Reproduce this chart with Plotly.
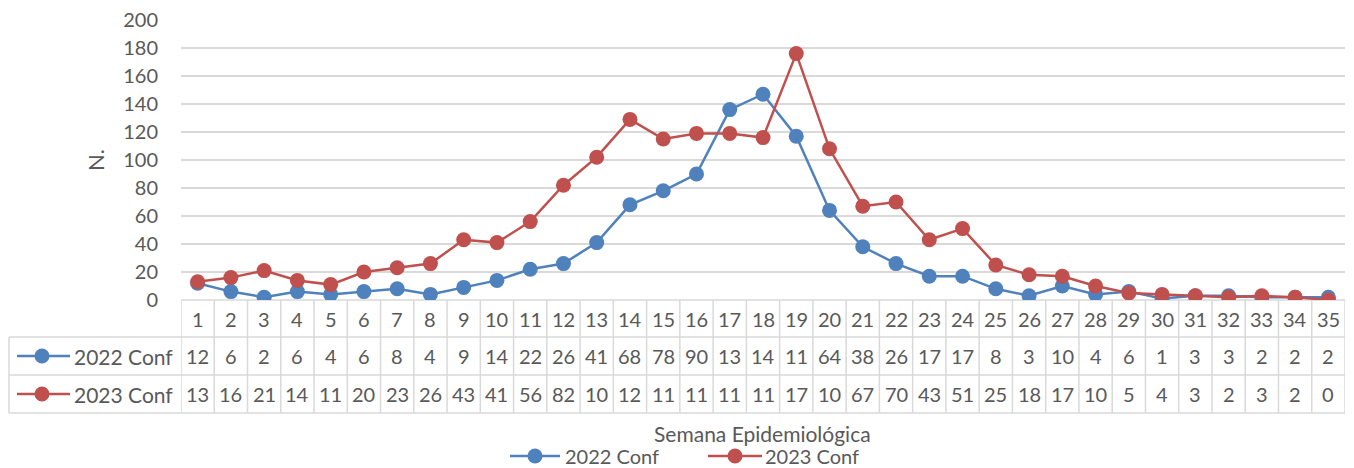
import plotly.graph_objects as go

weeks = list(range(1, 36))
conf_2022 = [12, 6, 2, 6, 4, 6, 8, 4, 9, 14, 22, 26, 41, 68, 78, 90, 136, 147, 117, 64,
             38, 26, 17, 17, 8, 3, 10, 4, 6, 1, 3, 3, 2, 2, 2]
conf_2023 = [13, 16, 21, 14, 11, 20, 23, 26, 43, 41, 56, 82, 102, 129, 115, 119, 119, 116, 176, 108,
             67, 70, 43, 51, 25, 18, 17, 10, 5, 4, 3, 2, 3, 2, 0]
series_names = ["2022 Conf", "2023 Conf"]
colors = ["#4f81bd", "#c0504d"]
y_ticks = list(range(0, 201, 20))

W, H = 1354, 468
L, R, T, B = 181, 9, 20, 168
PW = W - L - R
PH = H - T - B
FONT = "Lato"
TXT = "#595959"
GRID = "#d9d9d9"
FS = 20


def py(ypix):
    return (T + PH - ypix) / PH


def px(xpix):
    return (xpix - L) / PW


fig = go.Figure()
for name, vals, c in zip(series_names, [conf_2022, conf_2023], colors):
    fig.add_trace(go.Scatter(
        x=weeks, y=vals, name=name, mode="lines+markers",
        line=dict(color=c, width=2.5),
        marker=dict(color=c, size=15),
        showlegend=False,
    ))

shapes = []
annotations = []
row_top, r1, r2, row_bot = 300, 337, 375, 413
shapes.append(dict(type="line", xref="paper", yref="paper", x0=0, x1=1, y0=py(row_top), y1=py(row_top),
                   line=dict(color=GRID, width=1.5), layer="below"))
for yy in [r1, r2, row_bot]:
    shapes.append(dict(type="line", xref="paper", yref="paper", x0=px(9), x1=1, y0=py(yy), y1=py(yy),
                       line=dict(color=GRID, width=1.5)))
for k in range(0, 36):
    shapes.append(dict(type="line", xref="x", yref="paper", x0=k + 0.5, x1=k + 0.5,
                       y0=py(row_top), y1=py(row_bot), line=dict(color=GRID, width=1.5)))
shapes.append(dict(type="line", xref="paper", yref="paper", x0=px(9), x1=px(9),
                   y0=py(r1), y1=py(row_bot), line=dict(color=GRID, width=1.5)))


def txt(x, y, text, size=FS, xref="paper", xanchor="center", **kw):
    annotations.append(dict(x=x, y=y, xref=xref, yref="paper", text=text, showarrow=False,
                            xanchor=xanchor, yanchor="middle",
                            font=dict(size=size, color=TXT, family=FONT), **kw))


for w in weeks:
    txt(w, py((row_top + r1) / 2), str(w), xref="x")
for (ya, yb), vals in zip([(r1, r2), (r2, row_bot)], [conf_2022, conf_2023]):
    for w, v in zip(weeks, vals):
        txt(w, py((ya + yb) / 2), str(v)[:2], xref="x")


def legend_key(xl, xr, xm, xt, ypix, name, c, size=21):
    yc = py(ypix)
    shapes.append(dict(type="line", xref="paper", yref="paper", x0=px(xl), x1=px(xr), y0=yc, y1=yc,
                       line=dict(color=c, width=2.5)))
    shapes.append(dict(type="circle", xref="paper", yref="paper", xsizemode="pixel", ysizemode="pixel",
                       xanchor=px(xm), yanchor=yc, x0=-7.5, x1=7.5, y0=-7.5, y1=7.5,
                       fillcolor=c, line=dict(color=c, width=0)))
    txt(px(xt), yc, name, size=size, xanchor="left")


for (ya, yb), name, c in zip([(r1, r2), (r2, row_bot)], series_names, colors):
    legend_key(17, 70, 42, 72, (ya + yb) / 2, name, c)

legend_key(510, 560, 535, 563, 456, series_names[0], colors[0], size=20)
legend_key(708, 762, 735, 763, 456, series_names[1], colors[1], size=20)

txt(px(762), py(433), "Semana Epidemiológica", size=21)
txt(px(95), py(160), "N.", size=22, textangle=-90)

fig.update_layout(
    width=W, height=H,
    margin=dict(l=L, r=R, t=T, b=B, autoexpand=False),
    paper_bgcolor="white", plot_bgcolor="white",
    font=dict(family=FONT, size=FS, color=TXT),
    shapes=shapes, annotations=annotations,
    showlegend=False,
    xaxis=dict(range=[0.5, 35.5], showticklabels=False, showgrid=False, zeroline=False,
               showline=False, ticks="", automargin=False),
    yaxis=dict(range=[0, 200], tickvals=y_ticks, showgrid=True, gridcolor=GRID, gridwidth=1.5,
               zeroline=False, showline=False, ticks="", ticklen=0, automargin=False,
               ticklabelstandoff=22,
               tickfont=dict(size=FS, color=TXT, family=FONT)),
)

fig.write_html("out.html", config={"displayModeBar": False},
               post_script="document.body.style.margin='0';document.body.style.overflow='hidden';")
